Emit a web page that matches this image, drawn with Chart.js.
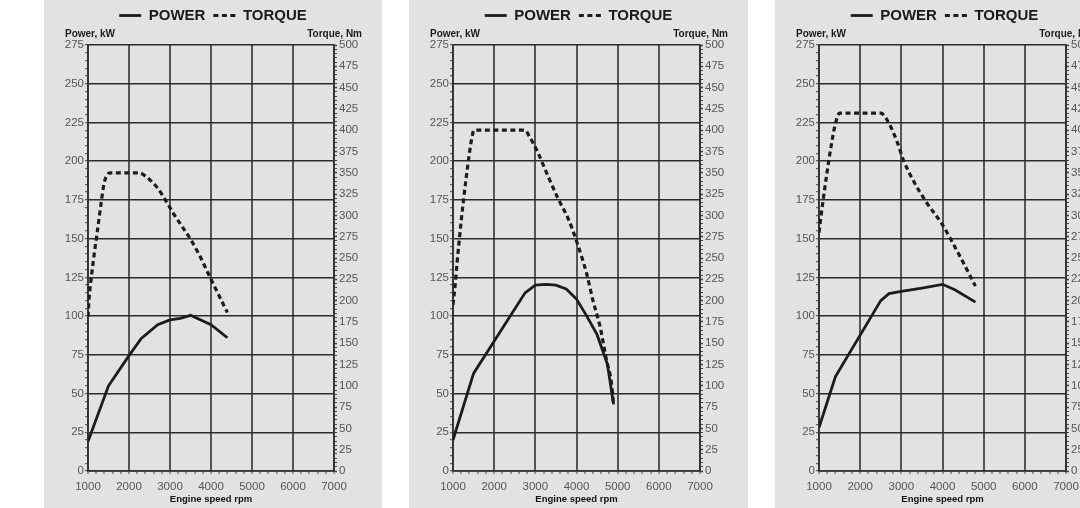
<!DOCTYPE html>
<html>
<head>
<meta charset="utf-8">
<script src="https://cdn.jsdelivr.net/npm/chart.js@4.4.1/dist/chart.umd.min.js"></script>
<style>
  body { margin: 0; width: 1080px; height: 508px; overflow: hidden; background: #fff; position: relative; }
  canvas { position: absolute; top: 0; background: #e1e2e3; }
</style>
</head>
<body>
<canvas id="chart1" width="338" height="508" style="left:44px"></canvas>
<canvas id="chart2" width="339" height="508" style="left:409px"></canvas>
<canvas id="chart3" width="339" height="508" style="left:775px"></canvas>
<script>
// engine 1
const power1Rpm = [1000, 1500, 2000, 2300, 2700, 3000, 3250, 3500, 4000, 4400];
const power1Kw = [19, 55, 74.5, 85.5, 94.5, 97.5, 98.5, 100.5, 94.5, 86];
const torque1Rpm = [1000, 1030, 1090, 1150, 1230, 1330, 1390, 1450, 1530, 2250, 2400, 2700, 2900, 3100, 3500, 3700, 4000, 4400];
const torque1Nm = [181, 204, 231, 254, 282, 318, 337, 346, 350, 350, 346, 332, 317, 301, 272, 255, 225, 186];

// engine 2
const power2Rpm = [1000, 1500, 2750, 3000, 3250, 3500, 3750, 4000, 4250, 4500, 4750, 4900];
const power2Kw = [20, 63, 115, 120, 120.5, 120, 117.5, 111, 100, 88, 69, 43];
const torque2Rpm = [1000, 1050, 1100, 1150, 1200, 1260, 1320, 1390, 1450, 1510, 2750, 2850, 3050, 3300, 3550, 3800, 4000, 4250, 4400, 4570, 4730, 4850, 4900];
const torque2Nm = [195, 217, 245, 270, 294, 320, 344, 370, 389, 400, 400, 393, 375, 347, 320, 296, 270, 231, 200, 170, 130, 103, 78];

// engine 3
const power3Rpm = [1000, 1400, 2500, 2700, 3000, 3500, 4000, 4300, 4800];
const power3Kw = [28, 61, 110, 114.5, 116, 118, 120.5, 117, 109];
const torque3Rpm = [1000, 1100, 1200, 1300, 1400, 1500, 2500, 2700, 2900, 3050, 3300, 3600, 4000, 4200, 4500, 4800];
const torque3Nm = [280, 318, 352, 383, 408, 420, 420, 408, 386, 365, 340, 316, 289, 272, 245, 217];

const seriesLabels = ["POWER", "TORQUE"];
const xTitle = "Engine speed rpm";
const leftCaption = "Power, kW";
const rightCaption = "Torque, Nm";

const FONT = "'Liberation Sans', Arial, sans-serif";

function toPoints(xs, ys) {
  return xs.map((x, i) => ({ x: x, y: ys[i] }));
}

// "Power, kW" / "Torque, Nm" sit flat above the two y axes
const axisCaptions = {
  id: 'axisCaptions',
  afterDraw(chart) {
    const { ctx, chartArea } = chart;
    ctx.save();
    ctx.font = "bold 10px " + FONT;
    ctx.fillStyle = '#1a1a1a';
    ctx.textBaseline = 'alphabetic';
    ctx.textAlign = 'left';
    ctx.fillText(leftCaption, chartArea.left - 23, chartArea.top - 8.5);
    ctx.textAlign = 'right';
    ctx.fillText(rightCaption, chartArea.right + 28, chartArea.top - 8.5);
    ctx.restore();
  }
};

// point-style legend loses the dash, so put it back from the dataset
function legendLabels(chart) {
  const items = Chart.defaults.plugins.legend.labels.generateLabels(chart);
  items.forEach(item => {
    const ds = chart.data.datasets[item.datasetIndex];
    item.lineDash = ds.borderDash || [];
    item.lineWidth = ds.borderWidth;
  });
  return items;
}

function makeChart(id, pRpm, pKw, tRpm, tNm) {
  const ctx = document.getElementById(id).getContext('2d');
  const tickFont = { family: FONT, size: 11.5 };
  return new Chart(ctx, {
    type: 'line',
    data: {
      datasets: [{
        label: seriesLabels[0],
        data: toPoints(pRpm, pKw),
        yAxisID: 'y',
        borderColor: '#1c1c1c',
        backgroundColor: '#1c1c1c',
        borderWidth: 2.8,
        pointRadius: 0,
        tension: 0
      }, {
        label: seriesLabels[1],
        data: toPoints(tRpm, tNm),
        yAxisID: 'y2',
        borderColor: '#1c1c1c',
        backgroundColor: '#1c1c1c',
        borderWidth: 3.2,
        borderDash: [5, 3.5],
        pointRadius: 0,
        cubicInterpolationMode: 'monotone'
      }]
    },
    options: {
      responsive: false,
      animation: false,
      layout: { padding: 0 },
      plugins: {
        tooltip: { enabled: false },
        legend: {
          position: 'top',
          labels: {
            usePointStyle: true,
            pointStyle: 'line',
            pointStyleWidth: 22,
            padding: 8,
            color: '#1a1a1a',
            font: { family: FONT, size: 15, weight: 'bold' },
            generateLabels: legendLabels
          }
        }
      },
      scales: {
        x: {
          type: 'linear',
          position: 'bottom',
          min: 1000,
          max: 7000,
          ticks: {
            stepSize: 200,
            autoSkip: false,
            maxRotation: 0,
            padding: 5.5,
            color: '#555',
            font: tickFont,
            callback: v => (v % 1000 === 0 ? v : '')
          },
          grid: {
            color: c => (c.tick && c.tick.value % 1000 === 0 ? '#555' : 'rgba(0,0,0,0)'),
            lineWidth: 2,
            tickColor: '#444',
            tickLength: 3,
            tickWidth: 1
          },
          border: { color: '#333', width: 1.8 },
          title: {
            display: true,
            text: xTitle,
            color: '#111',
            font: { family: FONT, size: 9.5, weight: 'bold' },
            padding: { top: 0, bottom: 3 }
          },
          afterFit: s => { s.height = 37; }
        },
        // empty band between the legend and the plot for the captions
        xTop: {
          type: 'linear',
          position: 'top',
          display: true,
          min: 0,
          max: 1,
          ticks: { display: false },
          grid: { display: false },
          border: { display: false },
          afterFit: s => { s.height = 12; }
        },
        y: {
          type: 'linear',
          position: 'left',
          min: 0,
          max: 275,
          ticks: {
            stepSize: 5,
            autoSkip: false,
            padding: 1,
            color: '#555',
            font: tickFont,
            callback: v => (v % 25 === 0 ? v : '')
          },
          grid: {
            color: c => (c.tick && c.tick.value % 25 === 0 ? '#2b2b2b' : 'rgba(0,0,0,0)'),
            lineWidth: 1.4,
            tickColor: '#444',
            tickLength: 3,
            tickWidth: 1
          },
          border: { color: '#333', width: 1.8 },
          afterFit: s => { s.width = 44; }
        },
        y2: {
          type: 'linear',
          position: 'right',
          min: 0,
          max: 500,
          ticks: {
            stepSize: 5,
            autoSkip: false,
            padding: 2,
            color: '#555',
            font: tickFont,
            callback: v => (v % 25 === 0 ? v : '')
          },
          grid: {
            drawOnChartArea: false,
            tickColor: '#444',
            tickLength: 3,
            tickWidth: c => (c.tick && c.tick.value % 25 === 0 ? 1.6 : 1)
          },
          border: { color: '#333', width: 1.8 },
          afterFit: s => { s.width = 48; }
        }
      }
    },
    plugins: [axisCaptions]
  });
}

makeChart('chart1', power1Rpm, power1Kw, torque1Rpm, torque1Nm);
makeChart('chart2', power2Rpm, power2Kw, torque2Rpm, torque2Nm);
makeChart('chart3', power3Rpm, power3Kw, torque3Rpm, torque3Nm);
</script>
</body>
</html>
